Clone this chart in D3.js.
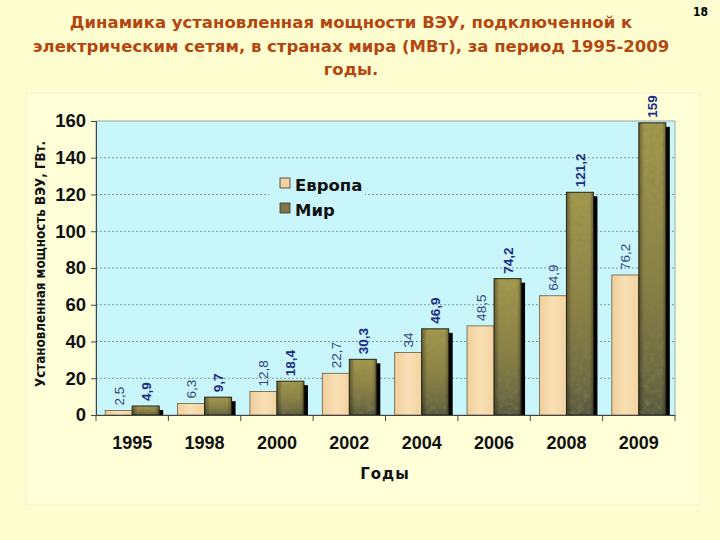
<!DOCTYPE html>
<html><head><meta charset="utf-8">
<script src="https://cdn.jsdelivr.net/npm/d3@7"></script>
<style>body{margin:0;background:#FEFDCF;}svg{display:block;}</style>
</head><body>
<svg id="c" width="720" height="540"></svg>
<script>
const categories = ["1995","1998","2000","2002","2004","2006","2008","2009"];
const europe = [2.5, 6.3, 12.8, 22.7, 34, 48.5, 64.9, 76.2];
const world = [4.9, 9.7, 18.4, 30.3, 46.9, 74.2, 121.2, 159];
const europeLabels = ["2,5","6,3","12,8","22,7","34","48,5","64,9","76,2"];
const worldLabels = ["4,9","9,7","18,4","30,3","46,9","74,2","121,2","159"];
const yTicks = [0,20,40,60,80,100,120,140,160];
const seriesNames = ["Европа","Мир"];
const titleLines = ["Динамика установленная мощности ВЭУ, подключенной к","электрическим сетям, в странах мира (МВт), за период 1995-2009","годы."];

const svg = d3.select("#c");
const defs = svg.append("defs");
const gW = defs.append("linearGradient").attr("id","gw").attr("x1",0).attr("y1",0).attr("x2",0).attr("y2",1);
[["0%","#A39A4E"],["50%","#8C8344"],["85%","#6E6C42"],["100%","#55593F"]].forEach(s=>gW.append("stop").attr("offset",s[0]).attr("stop-color",s[1]));
const gWh = defs.append("linearGradient").attr("id","gwh").attr("x1",0).attr("y1",0).attr("x2",1).attr("y2",0);
[["0%","#000","0.35"],["20%","#000","0"],["85%","#000","0"],["100%","#000","0.3"]].forEach(s=>gWh.append("stop").attr("offset",s[0]).attr("stop-color",s[1]).attr("stop-opacity",s[2]));
const gE = defs.append("linearGradient").attr("id","ge").attr("x1",0).attr("y1",0).attr("x2",1).attr("y2",0);
[["0%","#EFCF9C"],["50%","#F9E0B4"],["100%","#F1D3A2"]].forEach(s=>gE.append("stop").attr("offset",s[0]).attr("stop-color",s[1]));
const f = defs.append("filter").attr("id","tex").attr("x",0).attr("y",0).attr("width",1).attr("height",1);
f.append("feTurbulence").attr("type","fractalNoise").attr("baseFrequency","0.18").attr("numOctaves",2).attr("seed",3).attr("result","n");
f.append("feColorMatrix").attr("in","n").attr("type","matrix")
  .attr("values","0 0 0 0 0.25  0 0 0 0 0.22  0 0 0 0 0.1  0 0 0 1.1 -0.45").attr("result","nc");
f.append("feComposite").attr("in","nc").attr("in2","SourceGraphic").attr("operator","in").attr("result","nt");
f.append("feMerge").call(m=>{m.append("feMergeNode").attr("in","SourceGraphic");m.append("feMergeNode").attr("in","nt");});

svg.append("rect").attr("width",720).attr("height",540).attr("fill","#FEFDCF");
svg.append("rect").attr("x",26).attr("y",93).attr("width",674).attr("height",412).attr("fill","#FFFFD8").attr("stroke","#F3F1CC");

const title = svg.append("text").attr("text-anchor","middle").attr("fill","#B4470F")
  .style("font-family","'DejaVu Sans',sans-serif").style("font-weight","bold").style("font-size","16.5px");
titleLines.forEach((t,i)=>title.append("tspan").attr("x",351).attr("y",28+i*23.5).text(t));
svg.append("text").attr("x",708).attr("y",16).attr("text-anchor","end").style("font-family","'DejaVu Sans Condensed',sans-serif").style("font-weight","bold").style("font-size","12px").text("18");

const m = {l:96, r:675, t:121, b:415};
const x = d3.scaleBand().domain(categories).range([m.l,m.r]);
const y = d3.scaleLinear().domain([0,160]).range([m.b,m.t]);
const bw = 27;

svg.append("rect").attr("x",m.l).attr("y",m.t).attr("width",m.r-m.l).attr("height",m.b-m.t).attr("fill","#C9F6FA").attr("stroke","#9AA","stroke-width",0.6);

svg.append("g").selectAll("line").data(yTicks.filter(d=>d>0&&d<160)).join("line")
  .attr("x1",m.l).attr("x2",m.r).attr("y1",d=>y(d)).attr("y2",d=>y(d))
  .attr("stroke","#6E7C80").attr("stroke-width",0.8).attr("stroke-dasharray","2,2");

const leg = svg.append("g");
leg.append("rect").attr("x",269).attr("y",170).attr("width",96).attr("height",56).attr("fill","#C9F6FA");
seriesNames.forEach((n,i)=>{
  leg.append("rect").attr("x",280).attr("y",178+i*25).attr("width",10).attr("height",10).attr("fill",i?"#7E7542":"#F3D0A0").attr("stroke","#333").attr("stroke-width",0.8);
  leg.append("text").attr("x",295).attr("y",191+i*25).style("font-family","'DejaVu Sans',sans-serif").style("font-weight","bold").style("font-size","16.5px").attr("fill","#111").text(n);
});

const gb = svg.append("g");
categories.forEach((c,i)=>{
  const cx = x(c)+x.bandwidth()/2;
  gb.append("rect").attr("x",cx-bw+3).attr("y",y(europe[i])+3).attr("width",bw).attr("height",m.b-y(europe[i])-3).attr("fill","#222");
  gb.append("rect").attr("x",cx+4).attr("y",y(world[i])+4).attr("width",bw).attr("height",m.b-y(world[i])-4).attr("fill","#000");
  gb.append("rect").attr("x",cx-bw).attr("y",y(europe[i])).attr("width",bw).attr("height",m.b-y(europe[i])).attr("fill","url(#ge)").attr("stroke","#6A5A40").attr("stroke-width",0.8);
  gb.append("rect").attr("x",cx).attr("y",y(world[i])).attr("width",bw).attr("height",m.b-y(world[i])).attr("fill","url(#gw)").attr("filter","url(#tex)");
  gb.append("rect").attr("x",cx).attr("y",y(world[i])).attr("width",bw).attr("height",m.b-y(world[i])).attr("fill","url(#gwh)").attr("stroke","#2A2510").attr("stroke-width",1);
  gb.append("text").attr("transform",`translate(${cx-bw/2+5},${y(europe[i])-5}) rotate(-90)`)
    .style("font-family","'Liberation Sans',Arial,sans-serif").style("font-size","13.5px").attr("fill","#33457A").text(europeLabels[i]);
  gb.append("text").attr("transform",`translate(${cx+bw/2+5},${y(world[i])-5}) rotate(-90)`)
    .style("font-family","'Liberation Sans',Arial,sans-serif").style("font-weight","bold").style("font-size","13.5px").attr("fill","#1A2C86").text(worldLabels[i]);
});

const yAxis = svg.append("g").attr("transform",`translate(${m.l},0)`).call(d3.axisLeft(y).tickValues(yTicks).tickSize(5).tickPadding(5));
yAxis.select(".domain").attr("stroke","#444");
yAxis.selectAll("line").attr("stroke","#444");
yAxis.selectAll("text").style("font-family","'Liberation Sans',Arial,sans-serif").style("font-weight","bold").style("font-size","18.5px").attr("fill","#111");
const xAxis = svg.append("g").attr("transform",`translate(0,${m.b})`).call(d3.axisBottom(x).tickSize(0).tickPadding(21));
xAxis.select(".domain").attr("stroke","#444");
xAxis.selectAll("text").style("font-family","'Liberation Sans',Arial,sans-serif").style("font-weight","bold").style("font-size","18px").attr("fill","#111");
svg.append("g").selectAll("line").data(categories.concat(["end"])).join("line")
  .attr("x1",(d,i)=>m.l+i*x.step()).attr("x2",(d,i)=>m.l+i*x.step()).attr("y1",m.b).attr("y2",m.b+6).attr("stroke","#444");

svg.append("text").attr("x",385).attr("y",479).attr("text-anchor","middle").style("font-family","'DejaVu Sans',sans-serif").style("font-weight","bold").style("font-size","15px").style("letter-spacing","1px").attr("fill","#111").text("Годы");
svg.append("text").attr("transform","translate(45,264) rotate(-90)").attr("text-anchor","middle").style("font-family","'DejaVu Sans Condensed','DejaVu Sans',sans-serif").style("font-weight","bold").style("font-size","13.3px").attr("fill","#111").text("Установленная мощность ВЭУ, ГВт.");
</script>
</body></html>
